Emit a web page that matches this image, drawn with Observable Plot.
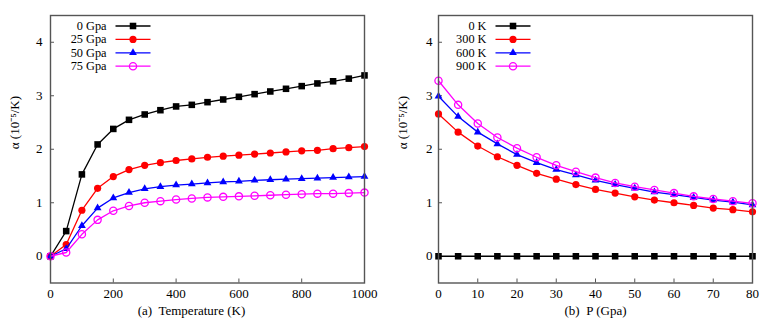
<!DOCTYPE html>
<html><head><meta charset="utf-8">
<script src="https://cdn.jsdelivr.net/npm/d3@7"></script>
<script src="https://cdn.jsdelivr.net/npm/@observablehq/plot@0.6"></script>
<style>
body{margin:0;background:#fff}
#c{display:flex;width:777px;height:326px;background:#fff}
svg, svg text{font-family:"Liberation Serif","Times New Roman",serif !important;}
</style>
</head><body><div id="c"></div>
<script>
// ---- Panel (a): alpha vs temperature ----
const temps = [0,50,100,150,200,250,300,350,400,450,500,550,600,650,700,750,800,850,900,950,1000];
const a0GPa  = [0,0.47,1.53,2.09,2.38,2.55,2.65,2.73,2.80,2.83,2.88,2.93,2.98,3.03,3.08,3.13,3.18,3.23,3.27,3.32,3.38];
const a25GPa = [0,0.22,0.86,1.27,1.49,1.62,1.70,1.75,1.79,1.82,1.85,1.87,1.89,1.91,1.93,1.95,1.97,1.98,2.01,2.03,2.05];
const a50GPa = [0,0.14,0.57,0.90,1.09,1.19,1.26,1.30,1.33,1.35,1.37,1.39,1.40,1.42,1.43,1.44,1.45,1.46,1.47,1.48,1.49];
const a75GPa = [0,0.07,0.41,0.68,0.85,0.94,1.00,1.03,1.06,1.08,1.10,1.11,1.12,1.13,1.14,1.15,1.16,1.17,1.17,1.18,1.19];
const legendA = ["0 Gpa","25 Gpa","50 Gpa","75 Gpa"];
const xTicksA = [0,200,400,600,800,1000];

// ---- Panel (b): alpha vs pressure ----
const pressures = [0,5,10,15,20,25,30,35,40,45,50,55,60,65,70,75,80];
const a0K   = [0,0,0,0,0,0,0,0,0,0,0,0,0,0,0,0,0];
const a300K = [2.66,2.32,2.06,1.86,1.70,1.55,1.44,1.34,1.25,1.18,1.11,1.05,1.00,0.95,0.90,0.87,0.83];
const a600K = [2.99,2.61,2.32,2.10,1.90,1.75,1.62,1.52,1.42,1.34,1.27,1.20,1.15,1.10,1.05,1.01,0.96];
const a900K = [3.28,2.83,2.48,2.22,2.02,1.85,1.70,1.58,1.47,1.37,1.30,1.24,1.18,1.12,1.07,1.03,0.99];
const legendB = ["0 K","300 K","600 K","900 K"];
const xTicksB = [0,10,20,30,40,50,60,70,80];

const yTicks = [0,1,2,3,4];
const yDomain = [-0.5,4.5];
const colors = ["#000000","#ff0000","#0000ff","#ff00ff"];
const symbols = ["square","circle","triangle","circle"];
const radii = [3.7,3.6,2.9,3.6];
const fills = ["#000000","#ff0000","#0000ff","none"];

const H = 326, MT = 15, MB = 43.5;
const FF = "Liberation Serif";

function panel(o){
  const innerW = o.width - o.marginLeft - o.marginRight;
  const innerH = H - MT - MB;
  const [x0,x1] = o.xDomain;
  const px2x = p => x0 + (p/innerW)*(x1-x0);
  const py2y = p => yDomain[1] - (p/innerH)*(yDomain[1]-yDomain[0]);
  const tickLenX = 4*(yDomain[1]-yDomain[0])/innerH;
  const tickLenY = 4*(x1-x0)/innerW;
  const marks = [];
  marks.push(Plot.ruleX(o.xTicks,{x:d=>d, y1:yDomain[0], y2:yDomain[0]+tickLenX, stroke:"#555", strokeWidth:1}));
  marks.push(Plot.ruleY(yTicks,{y:d=>d, x1:x0, x2:x0+tickLenY, stroke:"#555", strokeWidth:1}));
  marks.push(Plot.axisX(o.xTicks,{tickSize:0, tickPadding:6, fontSize:13, fontFamily:FF, label:null, tickFormat:d=>String(d)}));
  marks.push(Plot.axisY(yTicks,{tickSize:0, tickPadding:o.yPad, fontSize:13, fontFamily:FF, label:null, tickFormat:d=>String(d)}));
  o.series.forEach((vals,i)=>{
    const data = o.xs.map((x,j)=>({x, y:vals[j]}));
    marks.push(Plot.line(data,{x:"x", y:"y", stroke:colors[i], strokeWidth:1.3}));
    marks.push(Plot.dot(data,{x:"x", y:"y", symbol:symbols[i], r:radii[i], fill:fills[i], stroke: i===3?colors[i]:"none", strokeWidth:1.3}));
  });
  o.legend.forEach((name,i)=>{
    const py = 25.5 + i*13.4 - MT;
    const ly = py2y(py);
    const lx1 = px2x(o.legendLine[0]), lx2 = px2x(o.legendLine[1]), lxm = (lx1+lx2)/2;
    marks.push(Plot.text([name],{x:px2x(o.legendText), y:ly, text:d=>d, textAnchor:"end", fontSize:12.3, fontFamily:FF}));
    marks.push(Plot.link([0],{x1:lx1, x2:lx2, y1:ly, y2:ly, stroke:colors[i], strokeWidth:1.3}));
    marks.push(Plot.dot([0],{x:lxm, y:ly, symbol:symbols[i], r:radii[i], fill:fills[i], stroke:i===3?colors[i]:"none", strokeWidth:1.3}));
  });
  marks.push(Plot.text(["α (10⁻⁵/K)"],{frameAnchor:"left", dx:-36, rotate:-90, text:d=>d, fontSize:13, fontFamily:FF}));
  marks.push(Plot.text([o.xLabel],{x:px2x(o.xLabelPx), frameAnchor:"bottom", dy:32, text:d=>d, fontSize:13, fontFamily:FF}));
  marks.push(Plot.frame({stroke:"#555", strokeWidth:1.4}));
  return Plot.plot({
    width:o.width, height:H, marginTop:MT, marginBottom:MB,
    marginLeft:o.marginLeft, marginRight:o.marginRight,
    x:{domain:o.xDomain, label:null}, y:{domain:yDomain, label:null},
    style:{fontFamily:FF, fontSize:"13px", background:"#fff", color:"#000"},
    marks
  });
}

const c = document.getElementById("c");
c.appendChild(panel({
  width:389, marginLeft:50, marginRight:25, xDomain:[0,1000], xTicks:xTicksA, xs:temps,
  series:[a0GPa,a25GPa,a50GPa,a75GPa], legend:legendA,
  legendText:56, legendLine:[65,100], xLabel:"(a)  Temperature (K)", xLabelPx:141, yPad:8
}));
c.appendChild(panel({
  width:388, marginLeft:49, marginRight:25, xDomain:[0,80], xTicks:xTicksB, xs:pressures,
  series:[a0K,a300K,a600K,a900K], legend:legendB,
  legendText:48, legendLine:[57,92], xLabel:"(b)  P (Gpa)", xLabelPx:157, yPad:6
}));
</script></body></html>
